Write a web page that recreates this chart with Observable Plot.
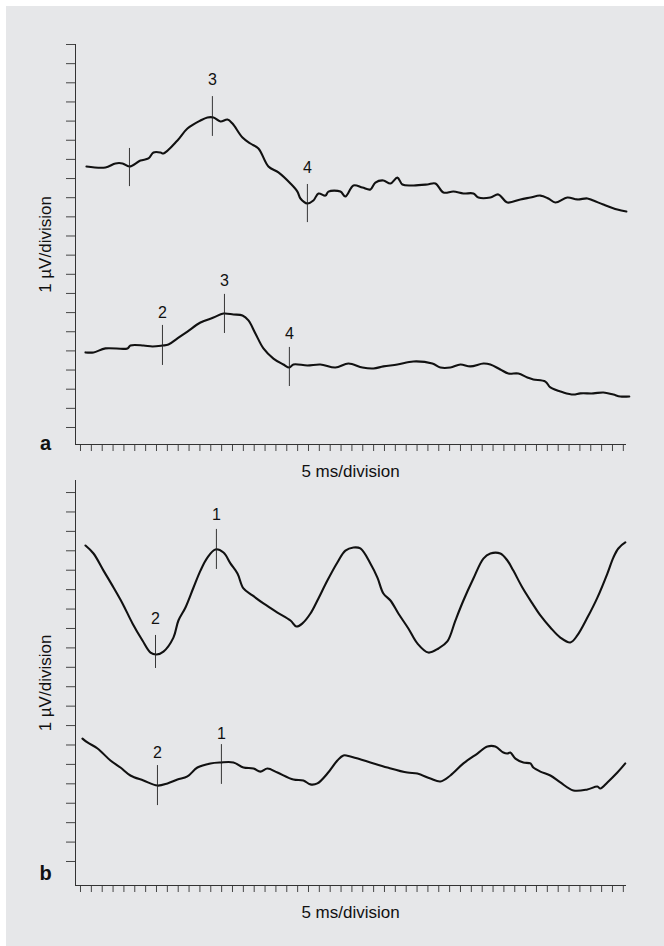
<!DOCTYPE html>
<html>
<head>
<meta charset="utf-8">
<script src="https://cdn.jsdelivr.net/npm/d3@7"></script>
<script src="https://cdn.jsdelivr.net/npm/@observablehq/plot@0.6"></script>
<style>
  html, body { margin: 0; padding: 0; background: #e6e7e9; }
  body { width: 664px; height: 946px; overflow: hidden; font-family: "Liberation Sans", Arial, Helvetica, sans-serif; }
  #edge { position: fixed; inset: 0; box-shadow: inset 6px 6px 0 #ffffff; pointer-events: none; }
  svg { display: block; background: transparent; }
  #chart > svg:nth-child(2) { margin-top: -20px; }
</style>
</head>
<body>
<div id="chart"></div>
<div id="edge"></div>
<script>
// ---- data (x in ms, y in µV divisions) ----
const xTicks = d3.range(0, 51);
const yTicksA = d3.range(0, 21);
const yTicksB = d3.range(0, 20);
const xLabel = "5 ms/division";
const yLabel = "1 µV/division";
const panelLetters = ["a", "b"];

const traceA1 = [[0.55,13.63],[2.30,13.58],[3.22,13.79],[3.87,13.79],[4.51,13.63],[5.52,13.94],[6.26,14.05],[6.72,14.36],[7.37,14.36],[7.64,14.31],[8.93,14.99],[9.85,15.61],[11.05,16.03],[11.69,16.19],[12.25,16.19],[12.89,15.98],[13.54,16.08],[14.00,15.87],[14.92,15.14],[15.65,14.83],[16.39,14.57],[17.31,13.63],[18.23,13.32],[19.34,12.74],[19.98,12.32],[20.26,11.96],[20.90,11.70],[21.45,11.85],[21.92,12.22],[22.56,12.11],[22.84,12.32],[23.94,12.32],[24.40,12.06],[25.14,12.64],[25.97,12.53],[26.70,12.43],[27.16,12.79],[27.90,12.90],[28.55,12.74],[29.19,13.05],[29.65,12.69],[30.66,12.64],[31.95,12.69],[32.69,12.74],[33.43,12.27],[34.35,12.32],[35.27,12.22],[36.19,12.22],[36.65,12.01],[37.75,12.01],[38.49,12.17],[39.32,11.75],[40.52,11.91],[41.44,12.01],[42.36,12.11],[43.09,11.96],[43.74,11.75],[44.84,12.01],[45.76,11.91],[46.69,11.96],[47.24,11.85],[48.16,11.64],[49.45,11.38],[50.28,11.28]];

const traceA2 = [[0.46,3.92],[1.20,3.92],[2.30,4.13],[4.33,4.13],[4.60,4.28],[5.80,4.28],[6.63,4.23],[7.55,4.28],[8.10,4.33],[8.93,4.65],[9.85,5.01],[11.05,5.48],[12.25,5.74],[13.17,5.95],[14.09,5.90],[14.92,5.85],[15.47,5.59],[16.11,4.91],[16.85,4.13],[17.77,3.60],[18.69,3.29],[19.24,3.13],[19.61,3.29],[20.90,3.24],[22.10,3.29],[23.48,3.13],[24.68,3.34],[25.97,3.13],[26.98,3.08],[27.90,3.19],[29.19,3.29],[30.66,3.45],[32.41,3.34],[33.15,3.13],[34.07,3.13],[34.99,3.29],[35.91,3.19],[37.11,3.34],[37.75,3.29],[38.67,3.03],[39.41,2.82],[40.33,2.82],[41.16,2.61],[41.71,2.51],[42.82,2.40],[43.28,2.09],[44.48,1.83],[45.40,1.72],[46.04,1.78],[47.24,1.78],[48.16,1.83],[49.08,1.72],[49.72,1.62],[50.55,1.62]];

const traceB1 = [[0.46,16.27],[1.20,15.86],[2.12,14.98],[3.04,14.11],[3.87,13.29],[4.79,12.26],[5.71,11.38],[6.45,10.76],[7.00,10.66],[7.64,10.81],[8.56,11.53],[9.02,12.41],[9.67,13.08],[10.41,14.11],[11.05,14.98],[11.69,15.65],[12.43,16.07],[13.17,15.91],[13.81,15.35],[14.46,14.83],[15.01,14.06],[15.84,13.70],[16.85,13.29],[18.14,12.82],[19.34,12.41],[19.89,12.10],[20.44,12.26],[21.18,12.77],[21.82,13.44],[22.74,14.47],[23.66,15.40],[24.40,16.01],[25.14,16.17],[25.78,16.12],[26.70,15.35],[27.35,14.62],[27.90,13.80],[28.55,13.44],[29.28,12.77],[30.20,12.00],[31.03,11.23],[32.04,10.76],[32.97,10.97],[33.79,11.33],[34.53,12.41],[35.27,13.44],[36.19,14.57],[37.11,15.60],[37.75,15.86],[38.67,15.86],[39.32,15.50],[39.87,14.98],[40.70,14.11],[41.62,13.29],[42.36,12.67],[43.28,12.05],[44.20,11.53],[45.12,11.28],[45.76,11.64],[46.69,12.56],[47.61,13.59],[48.53,14.83],[49.08,15.65],[49.54,16.12],[50.18,16.43]];

const traceB2 = [[0.18,6.33],[0.64,6.13],[1.57,5.82],[2.76,5.20],[3.68,4.84],[4.60,4.43],[5.80,4.17],[7.09,3.91],[8.01,4.02],[8.93,4.22],[9.85,4.38],[10.77,4.84],[11.97,5.05],[12.89,5.10],[14.09,5.10],[15.01,4.84],[15.93,4.79],[16.57,4.63],[17.22,4.79],[18.14,4.58],[19.61,4.22],[20.53,4.17],[21.18,3.97],[21.82,4.02],[22.74,4.53],[23.66,5.20],[24.22,5.46],[24.86,5.41],[26.43,5.15],[28.27,4.84],[30.11,4.58],[31.03,4.53],[32.23,4.27],[33.15,4.12],[34.07,4.43],[35.27,5.05],[36.56,5.56],[37.48,5.92],[38.21,5.92],[38.95,5.61],[39.32,5.56],[39.59,5.61],[40.06,5.30],[40.79,5.10],[41.44,5.05],[41.71,4.84],[42.36,4.63],[43.28,4.43],[44.20,4.07],[45.40,3.66],[46.69,3.71],[47.61,3.86],[47.88,3.76],[48.53,4.07],[49.45,4.58],[50.18,5.05]];

// markers: [x, yBottom, yTop, label, labelY]
const markersA = [[4.51,12.58,14.57,"",null],[12.15,15.20,17.28,"3",18.17],[20.90,10.70,12.69,"4",13.58],
                  [7.55,3.24,5.33,"2",6.01],[13.26,4.91,6.95,"3",7.68],[19.24,2.14,4.18,"4",4.91]];
const markersB = [[12.52,15.04,17.10,"1",17.87],[6.91,9.94,11.64,"2",12.51],
                  [12.98,3.97,6.02,"1",6.59],[7.09,2.88,4.94,"2",5.61]];

const FONT = '"Liberation Sans", Arial, Helvetica, sans-serif';

function panel({traces, markers, yTicks, yDomain, height, marginTop, marginBottom, letter, letterDy}) {
  const rows = traces.map((t, i) => t.map(([x, y]) => ({x, y, k: i}))).flat();
  const mk = markers.map(([x, y1, y2, label, ly]) => ({x, y1, y2, label, ly}));
  return Plot.plot({
    width: 664, height, marginLeft: 75, marginRight: 39, marginTop, marginBottom,
    style: {fontFamily: FONT, background: "transparent", color: "#111"},
    x: {domain: [-0.46, 50.2]},
    y: {domain: yDomain},
    marks: [
      Plot.axisX({ticks: xTicks, tickSize: 7, tickFormat: () => "", label: null, stroke: "#333", strokeWidth: 0.9}),
      Plot.axisY({ticks: yTicks, tickSize: 9, tickFormat: () => "", label: null, stroke: "#333", strokeWidth: 0.9}),
      Plot.frame({anchor: "left", stroke: "#333", strokeWidth: 1}),
      Plot.frame({anchor: "bottom", stroke: "#333", strokeWidth: 1}),
      Plot.line(rows, {x: "x", y: "y", z: "k", stroke: "#111", strokeWidth: 2.1, curve: "catmull-rom"}),
      Plot.ruleX(mk, {x: "x", y1: "y1", y2: "y2", stroke: "#222", strokeWidth: 0.9}),
      Plot.text(mk.filter(d => d.label), {x: "x", y: "ly", text: "label", fontSize: 16, fill: "#111"}),
      Plot.text([xLabel], {frameAnchor: "bottom", dy: 32, fontSize: 17, fill: "#111"}),
      Plot.text([yLabel], {frameAnchor: "left", textAnchor: "middle", dx: -30, rotate: -90, fontSize: 17, fill: "#111"}),
      Plot.text([letter], {frameAnchor: "bottom-left", textAnchor: "middle", dx: -30, dy: letterDy, fontSize: 20, fontWeight: "bold", fill: "#111"})
    ]
  });
}

const chart = document.getElementById("chart");
chart.append(panel({traces: [traceA1, traceA2], markers: markersA, yTicks: yTicksA,
  yDomain: [-0.888, 20], height: 490, marginTop: 44, marginBottom: 46, letter: panelLetters[0], letterDy: 5}));
chart.append(panel({traces: [traceB1, traceB2], markers: markersB, yTicks: yTicksB,
  yDomain: [-1.236, 19.62], height: 476, marginTop: 10, marginBottom: 61, letter: panelLetters[1], letterDy: -6}));
</script>
</body>
</html>
